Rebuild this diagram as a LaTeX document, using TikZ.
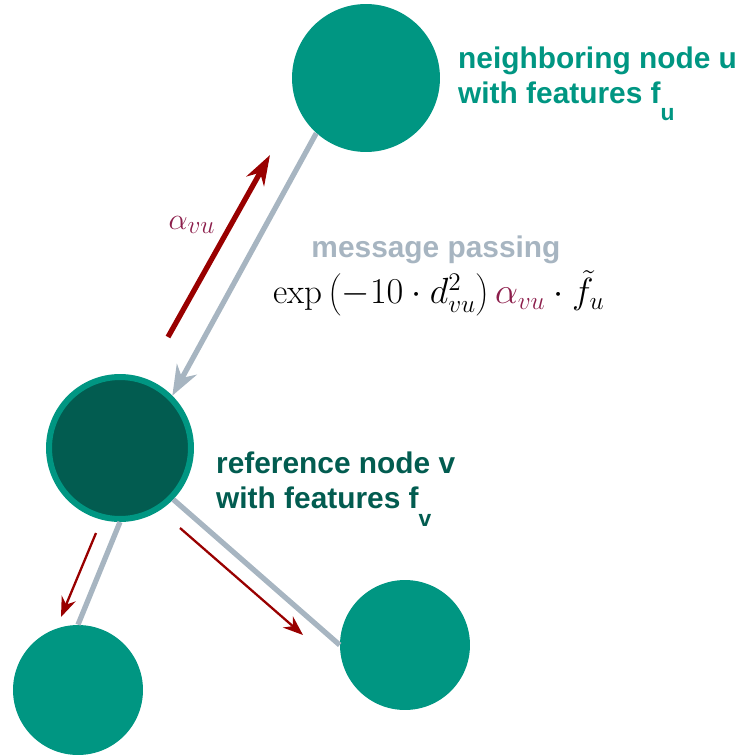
\documentclass[tikz,border=0pt]{standalone}
\usepackage{fontspec}
\setsansfont{Liberation Sans}
\usetikzlibrary{arrows.meta}

\definecolor{kitgreen}{RGB}{0,150,130}
\definecolor{darkgreen}{RGB}{2,92,80}
\definecolor{msggrey}{RGB}{167,181,193}
\definecolor{attred}{RGB}{153,0,0}
\definecolor{alphacol}{RGB}{140,30,75}

\tikzset{
  graphnode/.style={circle, fill=kitgreen, inner sep=0pt, minimum size=2.96cm},
  refnode/.style={circle, fill=darkgreen, draw=kitgreen, line width=0.12cm, inner sep=0pt, minimum size=2.84cm},
  edge/.style={draw=msggrey, line width=3pt},
  attarrow/.style={draw=attred, -{Stealth[length=6mm, width=4mm]}},
  label/.style={font=\sffamily\bfseries\fontsize{17}{20}\selectfont, align=left, anchor=west}
}

\begin{document}
\begin{tikzpicture}[x=0.02cm, y=-0.02cm]

	% Frame
	\useasboundingbox (0,0) rectangle (744,755);

	% Nodes
	\node[graphnode] (u) at (366,78) {};
	\node[refnode] (v) at (120,448) {};
	\node[graphnode, minimum size=2.6cm] (w1) at (78,690) {};
	\node[graphnode, minimum size=2.6cm] (w2) at (405,645) {};

	% Labels
	\node[label, text=kitgreen] (ulabel) at (452,84) {neighboring node u\\with features f\raisebox{-1.1ex}{\fontsize{13}{13}\selectfont u}};
	\node[label, text=darkgreen] (vlabel) at (210,489) {reference node v\\with features f\raisebox{-1.1ex}{\fontsize{13}{13}\selectfont v}};
	\node[font=\sffamily\bfseries\fontsize{17}{20}\selectfont, text=msggrey, inner sep=0pt] (msg) at (436,250) {message passing};
	\node[font=\fontsize{20}{24}\selectfont, inner sep=0pt] (formula) at (439,293)
		{$\exp\left(-10\cdot d_{vu}^2\right)\textcolor{alphacol}{\alpha_{vu}}\cdot\tilde{f}_u$};
	\node[font=\fontsize{19}{22}\selectfont, text=alphacol] (alpha) at (192,225) {$\alpha_{vu}$};

	% Grey edges
	\draw[edge, -{Stealth[length=6mm, width=4.5mm]}] (u.228) -- (v.45);
	\draw[edge] (v.270) -- (w1.90);
	\draw[edge] (v.316) -- (w2.180);

	% Attention arrows
	\coordinate (a0) at (168,337);
	\coordinate (a1) at (270,155);
	\coordinate (b0) at (96,533);
	\coordinate (b1) at (61,617);
	\coordinate (c0) at (180,528);
	\coordinate (c1) at (303,635);
	\draw[attarrow, line width=3pt] (a0) -- (a1);
	\draw[attarrow, line width=1.3pt, -{Stealth[length=4mm, width=3mm]}] (b0) -- (b1);
	\draw[attarrow, line width=1.3pt, -{Stealth[length=4mm, width=3mm]}] (c0) -- (c1);

\end{tikzpicture}
\end{document}
